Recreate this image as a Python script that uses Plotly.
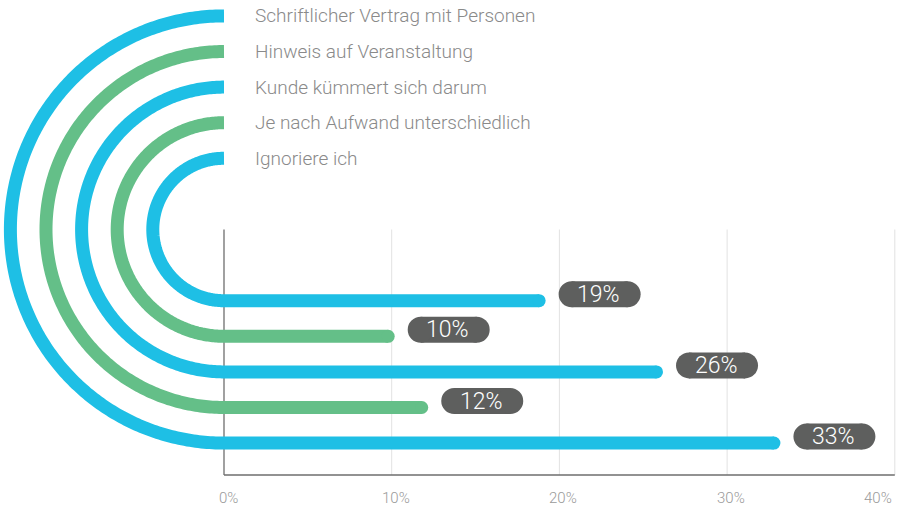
import numpy as np
import plotly.graph_objects as go

# Survey answers, listed from the outermost ring to the innermost one
categories = [
    "Schriftlicher Vertrag mit Personen",
    "Hinweis auf Veranstaltung",
    "Kunde kümmert sich darum",
    "Je nach Aufwand unterschiedlich",
    "Ignoriere ich",
]
values = [33, 12, 26, 10, 19]
colors = ["#1EBFE5", "#64BF88", "#1EBFE5", "#64BF88", "#1EBFE5"]
tick_values = [0, 10, 20, 30, 40]
tick_labels = ["0%", "10%", "20%", "30%", "40%"]

# ---- geometry -------------------------------------------------------------
W, H = 899, 507
X_RANGE = [-13.357, 40.25]                 # percent units across the page
PX_PER_PCT = W / (X_RANGE[1] - X_RANGE[0])
ROW_PX = 35.6                              # spacing between rings, in px
CENTER_PX = 229.5                          # vertical centre of the rings
Y_RANGE = [(H - CENTER_PX) / ROW_PX, -CENTER_PX / ROW_PX]   # reversed axis
AXIS_BOTTOM = (475 - CENTER_PX) / ROW_PX
LINE_W = 13
FONT = "Roboto"
PILL_COLOR = "#5E5F5E"

fig = go.Figure()

n = len(categories)
for i, (cat, val, col) in enumerate(zip(categories, values, colors)):
    r = n + 1 - i                          # ring radius in row units (6 .. 2)
    rx = r * ROW_PX / PX_PER_PCT           # same radius expressed in percent
    t = np.linspace(0, np.pi, 240)
    xs = list(-rx * np.sin(t))
    ys = list(-r * np.cos(t))
    bar_end = val - 3.5 / PX_PER_PCT       # round cap finishes just past the value
    xs.append(bar_end)
    ys.append(r)
    fig.add_trace(go.Scatter(
        x=xs, y=ys, mode="lines",
        line=dict(color=col, width=LINE_W, shape="linear", simplify=False),
        hoverinfo="skip", showlegend=False,
    ))
    fig.add_trace(go.Scatter(
        x=[bar_end], y=[r], mode="markers",
        marker=dict(color=col, size=LINE_W, line=dict(width=0)),
        hoverinfo="skip", showlegend=False,
    ))

    # answer text next to the top end of the ring
    fig.add_annotation(
        x=0, y=-r, xref="x", yref="y", text=cat, showarrow=False,
        xanchor="left", yanchor="middle", xshift=29,
        font=dict(family=FONT, size=19, color="#8A8A8A", weight=300),
    )

    # value pill at the end of the bar
    off, half, rad = 57, 41, 13
    common = dict(xref="x", yref="y", xsizemode="pixel", ysizemode="pixel",
                  xanchor=val, yanchor=r, fillcolor=PILL_COLOR,
                  line=dict(width=0), layer="above")
    fig.add_shape(type="rect", x0=off - half + rad, x1=off + half - rad,
                  y0=6.5 - rad, y1=6.5 + rad, **common)
    fig.add_shape(type="circle", x0=off - half, x1=off - half + 2 * rad,
                  y0=6.5 - rad, y1=6.5 + rad, **common)
    fig.add_shape(type="circle", x0=off + half - 2 * rad, x1=off + half,
                  y0=6.5 - rad, y1=6.5 + rad, **common)
    fig.add_annotation(
        x=val, y=r, xref="x", yref="y", text=f"{val}%", showarrow=False,
        xanchor="center", yanchor="middle", xshift=off - 1, yshift=6.5,
        font=dict(family=FONT, size=23, color="white", weight=300),
    )

# grid lines and axis frame of the bar section
for tv in tick_values[1:]:
    fig.add_shape(type="line", x0=tv, x1=tv, y0=0, y1=AXIS_BOTTOM,
                  xref="x", yref="y", line=dict(color="#E2E2E2", width=1),
                  layer="below")
fig.add_shape(type="line", x0=0, x1=0, y0=0, y1=AXIS_BOTTOM, xref="x",
              yref="y", line=dict(color="#6E6E6E", width=1.3), layer="below")
fig.add_shape(type="line", x0=0, x1=tick_values[-1], y0=AXIS_BOTTOM,
              y1=AXIS_BOTTOM, xref="x", yref="y",
              line=dict(color="#6E6E6E", width=1.3), layer="below")

for j, (tv, tl) in enumerate(zip(tick_values, tick_labels)):
    last = j == len(tick_values) - 1
    fig.add_annotation(
        x=tv, y=AXIS_BOTTOM, xref="x", yref="y", text=tl, showarrow=False,
        xanchor="right" if last else "center", yanchor="middle",
        xshift=-1 if last else 4, yshift=-23,
        font=dict(family=FONT, size=15, color="#9A9A9A", weight=300),
    )

fig.update_layout(
    width=W, height=H,
    margin=dict(l=0, r=0, t=0, b=0),
    paper_bgcolor="white", plot_bgcolor="white",
    xaxis=dict(range=X_RANGE, visible=False, fixedrange=True),
    yaxis=dict(range=Y_RANGE, visible=False, fixedrange=True),
    showlegend=False,
)

fig.write_html("out.html")
